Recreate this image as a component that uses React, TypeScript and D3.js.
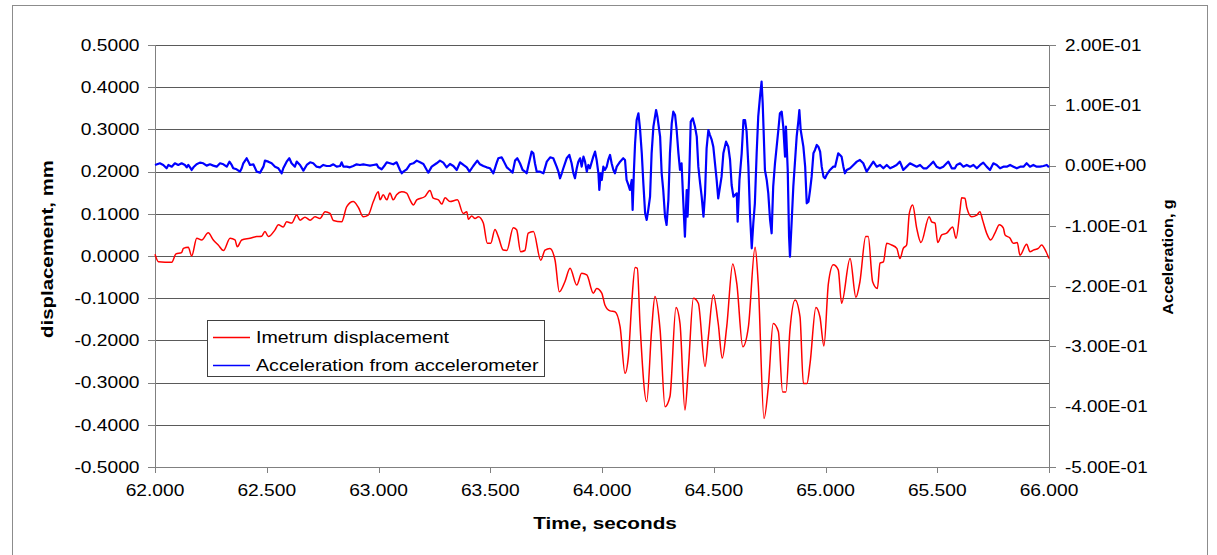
import React from 'react';
import * as d3 from 'd3';

// ---------- DATA ----------
const dispTime = [
  62.000, 62.015, 62.075, 62.094, 62.119, 62.127, 62.149, 62.164, 62.187, 62.209,
  62.238, 62.261, 62.283, 62.306, 62.336, 62.358, 62.368, 62.388, 62.425, 62.455,
  62.477, 62.492, 62.507, 62.537, 62.552, 62.574, 62.589, 62.612, 62.634, 62.649,
  62.671, 62.694, 62.716, 62.738, 62.761, 62.783, 62.798, 62.835, 62.858, 62.887,
  62.910, 62.932, 62.954, 62.977, 62.999, 63.007, 63.021, 63.037, 63.051, 63.066,
  63.081, 63.104, 63.126, 63.141, 63.156, 63.171, 63.208, 63.230, 63.245, 63.268,
  63.283, 63.298, 63.320, 63.353, 63.379, 63.395, 63.402, 63.417, 63.432, 63.447,
  63.469, 63.487, 63.502, 63.521, 63.536, 63.558, 63.574, 63.603, 63.618, 63.636,
  63.655, 63.670, 63.693, 63.726, 63.745, 63.767, 63.790, 63.809, 63.834, 63.857,
  63.887, 63.909, 63.932, 63.961, 63.976, 63.999, 64.013, 64.036, 64.058, 64.081,
  64.103, 64.118, 64.133, 64.148, 64.158, 64.170, 64.200, 64.222, 64.237, 64.260,
  64.282, 64.304, 64.331, 64.349, 64.371, 64.386, 64.409, 64.431, 64.461, 64.476,
  64.498, 64.520, 64.538, 64.558, 64.585, 64.603, 64.630, 64.655, 64.685, 64.699,
  64.725, 64.744, 64.766, 64.789, 64.808, 64.823, 64.841, 64.864, 64.886, 64.901,
  64.917, 64.931, 64.957, 64.975, 64.993, 65.013, 65.035, 65.057, 65.072, 65.110,
  65.136, 65.154, 65.180, 65.191, 65.211, 65.232, 65.244, 65.259, 65.274, 65.296,
  65.319, 65.333, 65.348, 65.363, 65.375, 65.390, 65.408, 65.427, 65.464, 65.475,
  65.490, 65.502, 65.520, 65.542, 65.569, 65.584, 65.602, 65.609, 65.624, 65.632,
  65.654, 65.677, 65.691, 65.703, 65.721, 65.739, 65.758, 65.778, 65.796, 65.803,
  65.826, 65.840, 65.858, 65.870, 65.900, 65.915, 65.930, 65.952, 65.967, 65.987,
  66.000,
];
const dispValue = [
  0.004, -0.0135, -0.015, 0.005, 0.008, 0.018, 0.021, 0.000, 0.042, 0.038,
  0.055, 0.038, 0.026, 0.013, 0.042, 0.038, 0.022, 0.038, 0.042, 0.046,
  0.047, 0.058, 0.046, 0.062, 0.074, 0.069, 0.081, 0.078, 0.097, 0.085,
  0.092, 0.085, 0.093, 0.089, 0.105, 0.101, 0.084, 0.081, 0.117, 0.129,
  0.115, 0.093, 0.097, 0.129, 0.152, 0.133, 0.145, 0.133, 0.149, 0.133,
  0.145, 0.152, 0.149, 0.133, 0.121, 0.133, 0.141, 0.155, 0.137, 0.133,
  0.123, 0.138, 0.129, 0.133, 0.101, 0.105, 0.087, 0.095, 0.089, 0.093,
  0.078, 0.030, 0.030, 0.063, 0.046, 0.014, 0.013, 0.067, 0.062, 0.010,
  0.013, 0.054, 0.058, -0.010, 0.014, 0.018, -0.010, -0.085, -0.061, -0.029,
  -0.069, -0.041, -0.045, -0.088, -0.077, -0.088, -0.116, -0.130, -0.132, -0.168,
  -0.278, -0.239, -0.112, -0.027, -0.029, -0.160, -0.345, -0.175, -0.096, -0.175,
  -0.357, -0.333, -0.122, -0.160, -0.365, -0.270, -0.100, -0.112, -0.262, -0.191,
  -0.092, -0.160, -0.242, -0.168, -0.019, -0.065, -0.215, -0.168, 0.021, -0.065,
  -0.385, -0.310, -0.160, -0.179, -0.322, -0.322, -0.175, -0.104, -0.144, -0.302,
  -0.302, -0.254, -0.122, -0.144, -0.213, -0.065, -0.021, -0.033, -0.112, -0.006,
  -0.098, -0.061, 0.046, 0.046, -0.061, -0.077, -0.017, -0.014, 0.030, 0.026,
  0.018, -0.006, 0.018, 0.026, 0.101, 0.121, 0.066, 0.032, 0.093, 0.081,
  0.078, 0.032, 0.050, 0.054, 0.069, 0.042, 0.109, 0.138, 0.137, 0.115,
  0.093, 0.097, 0.105, 0.085, 0.054, 0.038, 0.054, 0.074, 0.066, 0.050,
  0.042, 0.030, 0.032, 0.002, 0.028, 0.010, 0.014, 0.018, 0.026, 0.010,
  -0.006,
];

const accTime = [
  62.000, 62.022, 62.037, 62.052, 62.060, 62.075, 62.089, 62.104, 62.119, 62.134,
  62.142, 62.149, 62.157, 62.164, 62.172, 62.186, 62.201, 62.216, 62.231, 62.246,
  62.261, 62.276, 62.291, 62.306, 62.321, 62.333, 62.343, 62.350, 62.365, 62.380,
  62.388, 62.395, 62.410, 62.418, 62.425, 62.440, 62.455, 62.470, 62.485, 62.492,
  62.507, 62.522, 62.537, 62.552, 62.567, 62.574, 62.589, 62.601, 62.611, 62.626,
  62.634, 62.649, 62.664, 62.679, 62.694, 62.708, 62.723, 62.738, 62.753, 62.768,
  62.783, 62.798, 62.813, 62.828, 62.835, 62.843, 62.858, 62.872, 62.887, 62.902,
  62.917, 62.932, 62.947, 62.962, 62.977, 62.992,
  62.999, 63.014, 63.029, 63.037, 63.051, 63.066, 63.081, 63.096, 63.104, 63.111,
  63.126, 63.141, 63.156, 63.171, 63.186, 63.201, 63.216, 63.223, 63.238, 63.260,
  63.275, 63.290, 63.305, 63.320, 63.335, 63.350, 63.365, 63.380, 63.395, 63.407,
  63.424, 63.442, 63.454, 63.469, 63.484, 63.499, 63.514, 63.529, 63.536, 63.551,
  63.559, 63.574, 63.588, 63.600, 63.611, 63.621, 63.633, 63.645, 63.656, 63.663,
  63.671, 63.685, 63.693, 63.700, 63.708, 63.723, 63.738, 63.753, 63.768, 63.782,
  63.797, 63.805, 63.812, 63.820, 63.827, 63.842, 63.854, 63.864, 63.872, 63.879,
  63.887, 63.894, 63.902, 63.909, 63.917, 63.924, 63.932, 63.939,
  63.946, 63.961, 63.969, 63.976, 63.984, 63.988, 63.994, 63.999, 64.006, 64.013,
  64.021, 64.028, 64.036, 64.043, 64.051, 64.058, 64.066, 64.081, 64.095, 64.103,
  64.110, 64.118, 64.125, 64.133, 64.137, 64.143, 64.148, 64.155, 64.163, 64.170,
  64.178, 64.185, 64.193, 64.200, 64.207, 64.215, 64.222, 64.230, 64.242, 64.248,
  64.260, 64.267, 64.274, 64.282, 64.289, 64.297, 64.304, 64.312, 64.319, 64.327,
  64.334, 64.342, 64.349, 64.356, 64.364, 64.371, 64.379, 64.383, 64.391, 64.397,
  64.406, 64.416, 64.424, 64.431, 64.439, 64.446, 64.454, 64.461, 64.468, 64.476,
  64.483, 64.491, 64.498, 64.513, 64.520, 64.535, 64.543, 64.555, 64.565, 64.573,
  64.580, 64.588, 64.603, 64.607, 64.615, 64.625, 64.633, 64.640, 64.647, 64.655,
  64.662, 64.670, 64.677, 64.684, 64.692, 64.699, 64.707, 64.714, 64.719, 64.729,
  64.737, 64.744, 64.752, 64.759, 64.766, 64.774, 64.789, 64.796, 64.804, 64.811,
  64.819, 64.823, 64.831, 64.837, 64.841, 64.849, 64.856, 64.864, 64.871, 64.879,
  64.883, 64.889, 64.901, 64.909, 64.916, 64.924,
  64.931, 64.938, 64.946, 64.953, 64.961, 64.968, 64.976, 64.983, 64.991, 64.998,
  65.005, 65.020, 65.035, 65.043, 65.050, 65.057, 65.065, 65.072, 65.080, 65.087,
  65.095, 65.110, 65.125, 65.140, 65.154, 65.169, 65.184, 65.199, 65.214, 65.229,
  65.244, 65.259, 65.274, 65.289, 65.304, 65.318, 65.333, 65.348, 65.363, 65.378,
  65.393, 65.408, 65.423, 65.438, 65.453, 65.468, 65.482, 65.497, 65.512, 65.527,
  65.542, 65.550, 65.565, 65.579, 65.587, 65.602, 65.617, 65.632, 65.647, 65.662,
  65.677, 65.692, 65.706, 65.721, 65.736, 65.751, 65.766, 65.781, 65.796, 65.811,
  65.826, 65.841, 65.856, 65.871, 65.886, 65.900, 65.915, 65.930, 65.945, 65.960,
  65.975, 65.990, 66.000,
];
const accValue = [
  0.0010, 0.0038, 0.0010, -0.0045, 0.0010, -0.0018, 0.0038, 0.0010, 0.0038, 0.0010,
  -0.0029, 0.0010, -0.0029, -0.0073, -0.0029, 0.0021, 0.0049, 0.0038, -0.0001, 0.0021,
  -0.0001, -0.0018, 0.0038, 0.0021, -0.0018, 0.0065, 0.0010, -0.0045, -0.0062, -0.0101,
  -0.0045, 0.0038, 0.0121, 0.0065, 0.0010, 0.0021, -0.0101, -0.0117, -0.0018, 0.0082,
  0.0065, 0.0038, -0.0018, -0.0045, -0.0128, -0.0045, 0.0065, 0.0121, 0.0038, -0.0018,
  0.0065, 0.0010, -0.0084, 0.0010, 0.0054, 0.0038, -0.0018, -0.0029, 0.0010, -0.0007,
  -0.0007, 0.0021, -0.0018, -0.0007, 0.0054, -0.0018, -0.0018, -0.0029, -0.0007, 0.0021,
  0.0010, 0.0021, 0.0010, -0.0001, 0.0010, 0.0021,
  -0.0029, -0.0062, 0.0010, 0.0054, 0.0038, 0.0021, 0.0054, -0.0073, -0.0128, -0.0101,
  -0.0062, 0.0021, 0.0038, 0.0082, 0.0054, 0.0027, -0.0073, -0.0117, -0.0018, 0.0038,
  0.0082, 0.0049, -0.0029, 0.0027, -0.0007, -0.0073, 0.0054, 0.0010, -0.0029, -0.0101,
  -0.0007, 0.0082, 0.0021, -0.0007, -0.0029, -0.0045, -0.0128, 0.0049, 0.0121, 0.0137,
  0.0082, -0.0029, -0.0073, -0.0117, 0.0082, 0.0121, 0.0038, -0.0073, -0.0101, -0.0128,
  0.0010, 0.0231, 0.0203, 0.0038, -0.0101, -0.0101, -0.0128, 0.0065, 0.0137, 0.0121,
  -0.0018, -0.0101, -0.0211, -0.0128, -0.0045, 0.0121, 0.0176, 0.0038, -0.0128, -0.0211,
  -0.0045, 0.0065, 0.0121, -0.0018, 0.0148, 0.0065, -0.0101, 0.0010,
  -0.0045, 0.0148, 0.0231, 0.0093, -0.0128, -0.0405, -0.0128, -0.0239, -0.0018, -0.0073,
  -0.0018, 0.0093, 0.0176, 0.0038, -0.0073, -0.0128, -0.0018, 0.0065, 0.0121, 0.0093,
  -0.0239, -0.0322, -0.0405, -0.0239, -0.0736, -0.0073, 0.0369, 0.0756, 0.0867, 0.0618,
  0.0203, -0.0294, -0.0792, -0.0902, -0.0736, -0.0515, 0.0203, 0.0646, 0.0922, 0.0811,
  0.0480, -0.0128, -0.0405, -0.0847, -0.0985, -0.0571, 0.0203, 0.0701, 0.0894, 0.0839,
  0.0590, 0.0203, -0.0073, 0.0038, -0.0626, -0.1179, -0.0405, -0.0847, -0.0073, 0.0729,
  0.0784, 0.0646, 0.0480, -0.0018, -0.0294, -0.0515, -0.0847, -0.0460, 0.0286, 0.0590,
  0.0507, 0.0425, 0.0314, -0.0239, -0.0543, -0.0184, 0.0203, 0.0397, 0.0314, 0.0093,
  -0.0322, -0.0515, -0.0460, -0.0930, -0.0239, 0.0203, 0.0756, 0.0756, 0.0563, -0.0018,
  -0.0792, -0.1372, -0.0957, -0.0626, 0.0203, 0.0811, 0.1143, 0.1392, 0.1033, -0.0073,
  -0.0239, -0.0460, -0.0902, -0.1123, -0.0349, 0.0038, 0.0590, 0.0867, 0.0894, 0.0646,
  0.0148, 0.0646, -0.0073, -0.1179, -0.1511, -0.0902, -0.0349, 0.0093, 0.0480, 0.0756,
  0.0922, 0.0590, 0.0314, -0.0018, -0.0626, -0.0599,
  -0.0405, -0.0184, 0.0203, 0.0259, 0.0342, 0.0314, 0.0231, -0.0018, -0.0184, -0.0211,
  -0.0156, -0.0073, -0.0018, -0.0018, 0.0093, 0.0203, 0.0176, 0.0148, -0.0018, -0.0128,
  -0.0073, -0.0045, 0.0010, 0.0065, 0.0093, 0.0038, -0.0101, -0.0018, 0.0065, -0.0018,
  0.0010, -0.0045, 0.0010, -0.0045, -0.0018, 0.0010, 0.0065, -0.0073, -0.0018, 0.0038,
  0.0010, -0.0018, 0.0010, -0.0045, -0.0045, 0.0010, 0.0065, -0.0018, -0.0045, -0.0018,
  0.0038, 0.0065, -0.0045, -0.0045, 0.0010, 0.0038, -0.0018, 0.0010, -0.0018, 0.0010,
  -0.0045, 0.0010, 0.0049, -0.0018, -0.0073, 0.0038, 0.0010, -0.0045, -0.0018, -0.0018,
  0.0010, -0.0018, -0.0045, -0.0018, -0.0018, 0.0038, -0.0018, 0.0010, -0.0018, -0.0018,
  -0.0007, 0.0010, -0.0029,
];

const xTicks = [62, 62.5, 63, 63.5, 64, 64.5, 65, 65.5, 66];
const xTickLabels = ['62.000', '62.500', '63.000', '63.500', '64.000', '64.500', '65.000', '65.500', '66.000'];
const leftTicks = [0.5, 0.4, 0.3, 0.2, 0.1, 0, -0.1, -0.2, -0.3, -0.4, -0.5];
const leftTickLabels = ['0.5000', '0.4000', '0.3000', '0.2000', '0.1000', '0.0000', '-0.1000', '-0.2000', '-0.3000', '-0.4000', '-0.5000'];
const rightTicks = [0.2, 0.1, 0, -0.1, -0.2, -0.3, -0.4, -0.5];
const rightTickLabels = ['2.00E-01', '1.00E-01', '0.00E+00', '-1.00E-01', '-2.00E-01', '-3.00E-01', '-4.00E-01', '-5.00E-01'];
const seriesNames = ['Imetrum displacement', 'Acceleration from accelerometer'];
const seriesColors = ['#ff0000', '#0000ff'];
const xTitle = 'Time, seconds';
const leftTitle = 'displacement, mm';
const rightTitle = 'Acceleration, g';

// ---------- LAYOUT ----------
const W = 1217;
const H = 555;
const PL = 155, PR = 1049, PT = 45, PB = 467;
const FONT = "'Liberation Sans', Arial, Helvetica, sans-serif";

const crisp = (v: number) => Math.round(v) + 0.5;

function Txt(props: {
  x: number; y: number; anchor?: string; size: number; bold?: boolean; sx?: number; rot?: number; children: string;
}) {
  const { x, y, anchor = 'start', size, bold, sx = 1.2, rot = 0, children } = props;
  return (
    <text
      transform={`translate(${x},${y}) rotate(${rot}) scale(${sx},1)`}
      textAnchor={anchor}
      fontFamily={FONT}
      fontSize={size}
      fontWeight={bold ? 'bold' : 'normal'}
      fill="#000"
    >
      {children}
    </text>
  );
}

export default function App() {
  const x = d3.scaleLinear().domain([62, 66]).range([PL, PR]);
  const yL = d3.scaleLinear().domain([-0.5, 0.5]).range([PB, PT]);
  const yR = d3.scaleLinear().domain([-0.5, 0.2]).range([PB, PT]);

  const dispPath = d3.line<number>()
    .x((_, i) => x(dispTime[i]))
    .y((d) => yL(d))
    .curve(d3.curveMonotoneX)(dispValue) || '';
  const accPath = d3.line<number>()
    .x((_, i) => x(accTime[i]))
    .y((d) => yR(d))(accValue) || '';

  const axisColor = '#808080';
  const gridColor = '#5a5a5a';

  return (
    <svg
      width={W}
      height={H}
      viewBox={`0 0 ${W} ${H}`}
      style={{ position: 'absolute', left: 0, top: 0, display: 'block', background: '#fff' }}
    >
      <rect x={0} y={0} width={W} height={H} fill="#fff" />
      {/* outer chart border */}
      <rect x={12.5} y={5.5} width={1195} height={570} fill="none" stroke="#8c8c8c" strokeWidth={1} />

      {/* horizontal gridlines */}
      {leftTicks.map((t, i) => (
        <line key={'g' + i} x1={PL} x2={PR} y1={crisp(yL(t))} y2={crisp(yL(t))} stroke={gridColor} strokeWidth={1} />
      ))}

      {/* left axis */}
      <line x1={crisp(PL)} x2={crisp(PL)} y1={PT} y2={PB} stroke={axisColor} strokeWidth={1} />
      {leftTicks.map((t, i) => (
        <g key={'lt' + i}>
          <line x1={PL - 7} x2={PL} y1={crisp(yL(t))} y2={crisp(yL(t))} stroke={axisColor} strokeWidth={1} />
          <Txt x={139.5} y={yL(t) + 5.7} anchor="end" size={16} sx={1.2}>{leftTickLabels[i]}</Txt>
        </g>
      ))}

      {/* right axis */}
      <line x1={crisp(PR)} x2={crisp(PR)} y1={PT} y2={PB} stroke={axisColor} strokeWidth={1} />
      {rightTicks.map((t, i) => (
        <g key={'rt' + i}>
          <line x1={PR} x2={PR + 7} y1={crisp(yR(t))} y2={crisp(yR(t))} stroke={axisColor} strokeWidth={1} />
          <Txt x={1065} y={yR(t) + 5.7} anchor="start" size={16} sx={1.18}>{rightTickLabels[i]}</Txt>
        </g>
      ))}

      {/* bottom axis */}
      <line x1={PL} x2={PR} y1={crisp(PB)} y2={crisp(PB)} stroke={axisColor} strokeWidth={1} />
      {xTicks.map((t, i) => (
        <g key={'xt' + i}>
          <line x1={crisp(x(t))} x2={crisp(x(t))} y1={PB} y2={PB + 6} stroke={axisColor} strokeWidth={1} />
          <Txt x={x(t)} y={496} anchor="middle" size={16} sx={1.2}>{xTickLabels[i]}</Txt>
        </g>
      ))}

      {/* series */}
      <path d={dispPath} fill="none" stroke={seriesColors[0]} strokeWidth={1.5} strokeLinejoin="round" />
      <path d={accPath} fill="none" stroke={seriesColors[1]} strokeWidth={2.2} strokeLinejoin="round" />

      {/* axis titles */}
      <Txt x={605} y={529} anchor="middle" size={17} bold sx={1.22}>{xTitle}</Txt>
      <Txt x={53} y={249} anchor="middle" size={17} bold sx={1.2} rot={-90}>{leftTitle}</Txt>
      <Txt x={1173} y={257} anchor="middle" size={14} bold sx={1.15} rot={-90}>{rightTitle}</Txt>

      {/* legend */}
      <rect x={207.5} y={320.5} width={337} height={56} fill="#fff" stroke="#404040" strokeWidth={1} />
      {seriesNames.map((name, i) => {
        const ly = 337 + i * 28;
        return (
          <g key={'lg' + i}>
            <line x1={213} x2={250} y1={ly + 0.5} y2={ly + 0.5} stroke={seriesColors[i]} strokeWidth={1.5} />
            <Txt x={256} y={ly + 5.5} anchor="start" size={16.5} sx={1.19}>{name}</Txt>
          </g>
        );
      })}
    </svg>
  );
}
